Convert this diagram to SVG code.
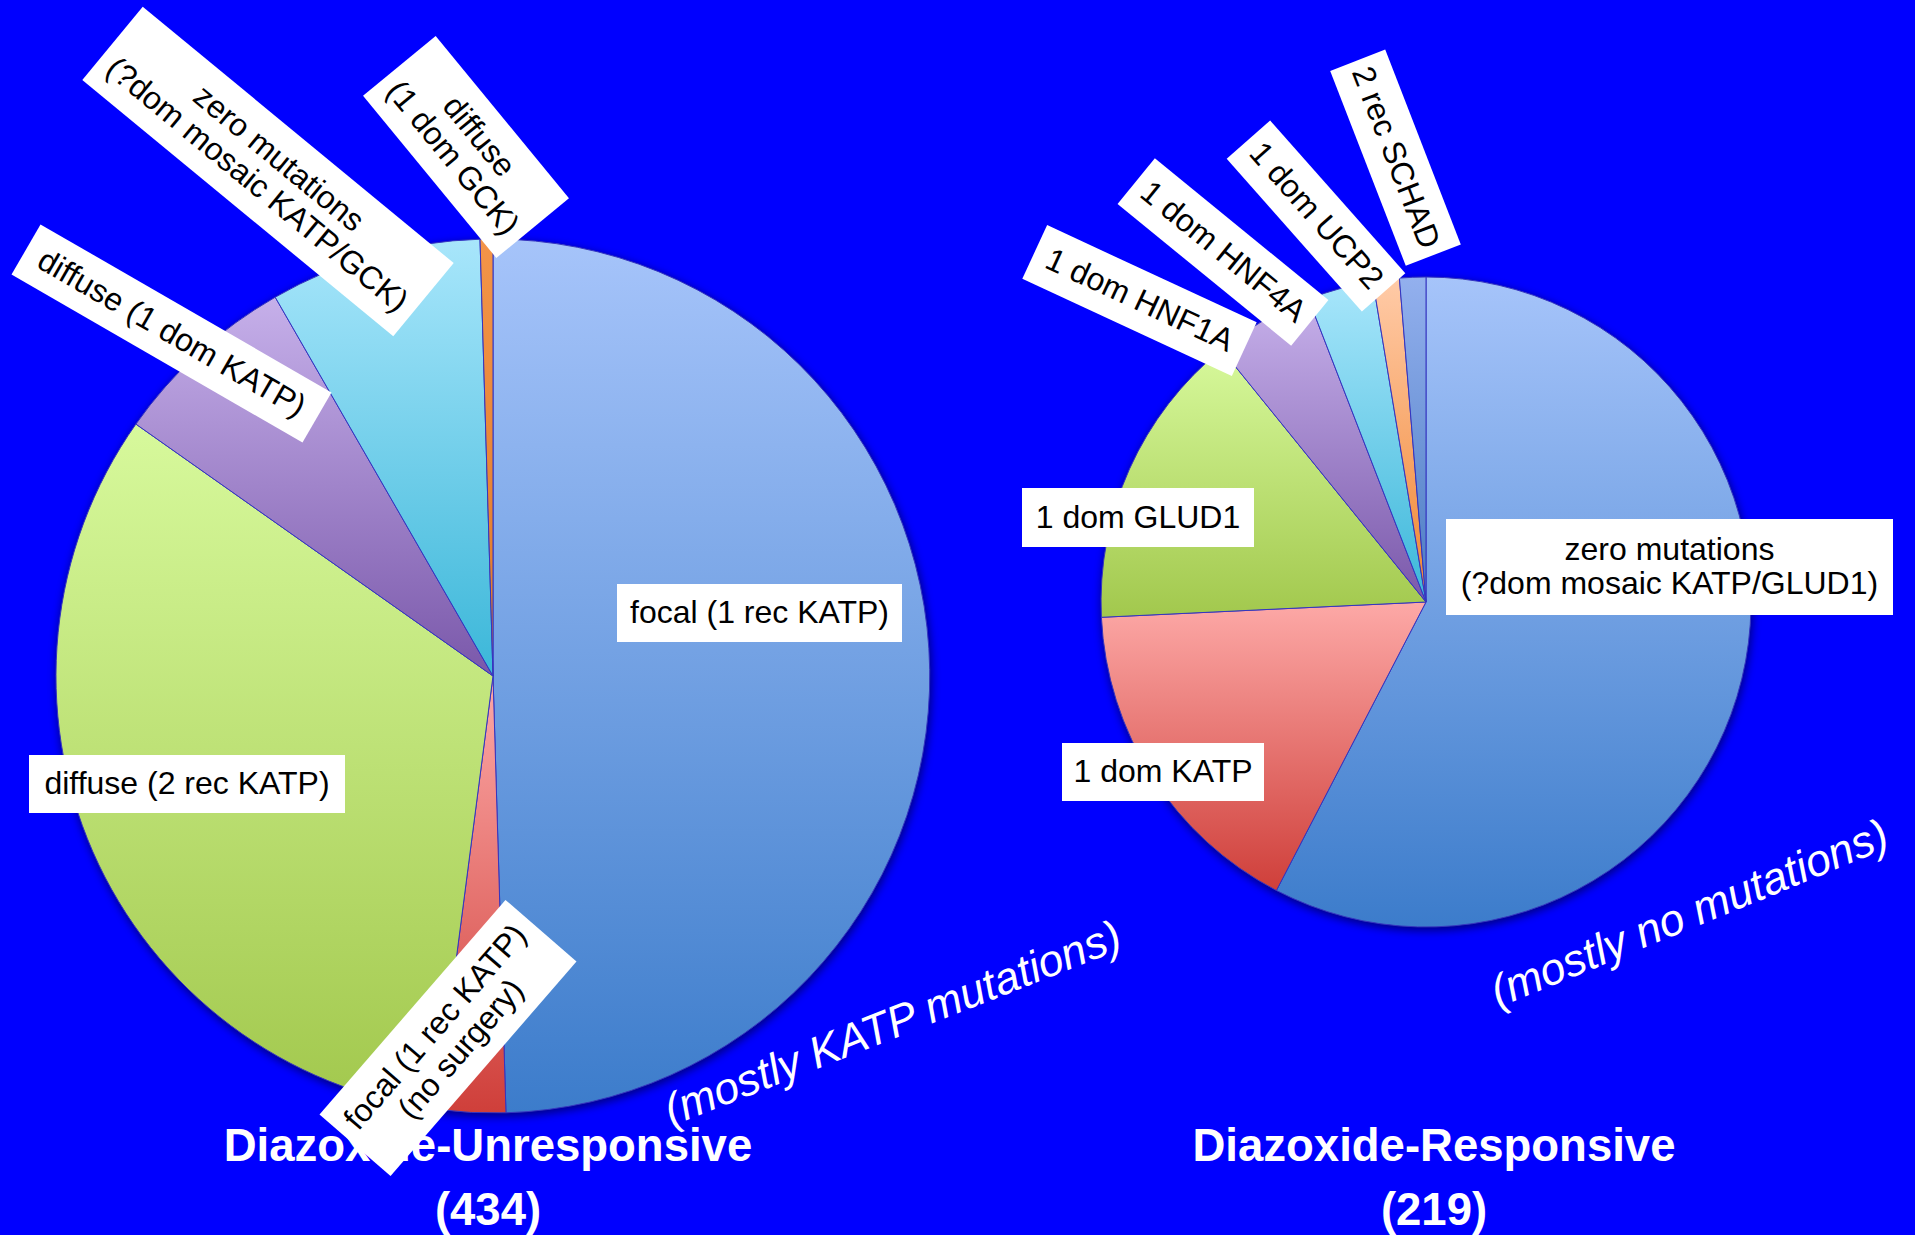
<svg xmlns="http://www.w3.org/2000/svg" width="1915" height="1235" viewBox="0 0 1915 1235">
<defs>
<style>
.slice{stroke:#3535c0;stroke-width:1;stroke-linejoin:round}
.box{fill:#ffffff}
.lbl{font-family:"Liberation Sans",Arial,sans-serif;font-size:32px;fill:#000000;text-anchor:middle}
.title{font-family:"Liberation Sans",Arial,sans-serif;font-size:45.5px;font-weight:bold;fill:#ffffff;text-anchor:middle}
.note{font-family:"Liberation Sans",Arial,sans-serif;font-size:44.5px;font-style:italic;fill:#ffffff;text-anchor:middle}
</style>
<linearGradient id="gBlue" x1="0" y1="0" x2="0" y2="1"><stop offset="0" stop-color="#A6C4FA"/><stop offset="1" stop-color="#3C7CCB"/></linearGradient>
<linearGradient id="gRed" x1="0" y1="0" x2="0" y2="1"><stop offset="0" stop-color="#FDA9A7"/><stop offset="1" stop-color="#CF3F3A"/></linearGradient>
<linearGradient id="gGreen" x1="0" y1="0" x2="0" y2="1"><stop offset="0" stop-color="#D7F99C"/><stop offset="1" stop-color="#A2C84D"/></linearGradient>
<linearGradient id="gPurple" x1="0" y1="0" x2="0" y2="1"><stop offset="0" stop-color="#C6B0EA"/><stop offset="1" stop-color="#7A58AA"/></linearGradient>
<linearGradient id="gCyan" x1="0" y1="0" x2="0" y2="1"><stop offset="0" stop-color="#A8E6FB"/><stop offset="1" stop-color="#3BB7D9"/></linearGradient>
<linearGradient id="gOrange" x1="0" y1="0" x2="0" y2="1"><stop offset="0" stop-color="#FFCBA8"/><stop offset="1" stop-color="#F08530"/></linearGradient>
<linearGradient id="gOrangeL" x1="0" y1="0" x2="0" y2="1"><stop offset="0" stop-color="#F39448"/><stop offset="1" stop-color="#E07A28"/></linearGradient>
<linearGradient id="gBlue2" x1="0" y1="0" x2="0" y2="1"><stop offset="0" stop-color="#93B0EE"/><stop offset="1" stop-color="#4B7CC2"/></linearGradient>
<filter id="shadow" x="-10%" y="-10%" width="120%" height="120%"><feGaussianBlur stdDeviation="4"/></filter>
</defs>

<rect x="0" y="0" width="1915" height="1235" fill="#0000FF"/>

<g id="pie-unresponsive">
<circle cx="494" cy="679" r="438" fill="#000060" opacity="0.75" filter="url(#shadow)"/>
<path id="u-focal" class="slice" fill="url(#gBlue)" d="M493,676 L493,239 A437,437 0 0 1 505.97,1112.8 Z"/>
<path id="u-focal-nosurgery" class="slice" fill="url(#gRed)" d="M493,676 L505.97,1112.8 A437,437 0 0 1 436.7,1109.4 Z"/>
<path id="u-diffuse-2rec" class="slice" fill="url(#gGreen)" d="M493,676 L436.7,1109.4 A437,437 0 0 1 135.9,424.1 Z"/>
<path id="u-diffuse-1dom" class="slice" fill="url(#gPurple)" d="M493,676 L135.9,424.1 A437,437 0 0 1 275.2,297.2 Z"/>
<path id="u-zero" class="slice" fill="url(#gCyan)" d="M493,676 L275.2,297.2 A437,437 0 0 1 480,239.2 Z"/>
<path id="u-gck" class="slice" fill="url(#gOrangeL)" d="M493,676 L480,239.2 A437,437 0 0 1 493,239 Z"/>
</g>

<g id="pie-responsive">
<circle cx="1427" cy="605" r="326" fill="#000060" opacity="0.75" filter="url(#shadow)"/>
<path id="r-zero" class="slice" fill="url(#gBlue)" d="M1426,602 L1426,277 A325,325 0 1 1 1276.4,890.5 Z"/>
<path id="r-katp" class="slice" fill="url(#gRed)" d="M1426,602 L1276.4,890.5 A325,325 0 0 1 1101.4,617.3 Z"/>
<path id="r-glud1" class="slice" fill="url(#gGreen)" d="M1426,602 L1101.4,617.3 A325,325 0 0 1 1221.5,349.4 Z"/>
<path id="r-hnf1a" class="slice" fill="url(#gPurple)" d="M1426,602 L1221.5,349.4 A325,325 0 0 1 1308.5,299 Z"/>
<path id="r-hnf4a" class="slice" fill="url(#gCyan)" d="M1426,602 L1308.5,299 A325,325 0 0 1 1372.9,281.4 Z"/>
<path id="r-ucp2" class="slice" fill="url(#gOrange)" d="M1426,602 L1372.9,281.4 A325,325 0 0 1 1399.4,278.1 Z"/>
<path id="r-schad" class="slice" fill="url(#gBlue2)" d="M1426,602 L1399.4,278.1 A325,325 0 0 1 1426,277 Z"/>
</g>

<g id="titles">
<g id="title-unresponsive">
<text class="title" x="488" y="1161">Diazoxide-Unresponsive</text>
<text class="title" x="488" y="1225">(434)</text>
</g>
<g id="title-responsive">
<text class="title" x="1434" y="1161">Diazoxide-Responsive</text>
<text class="title" x="1434" y="1225">(219)</text>
</g>
</g>

<g id="note-katp"><text class="note" transform="translate(898,1037) rotate(-21.5)" x="0" y="0">(mostly KATP mutations)</text></g>
<g id="note-none"><text class="note" transform="translate(1695,927) rotate(-22.3)" x="0" y="0">(mostly no mutations)</text></g>

<g id="connectors"></g>

<g id="labels">
<g id="lbl-u-focal"><rect class="box" x="617" y="584" width="285" height="58"/><text class="lbl" x="759.5" y="623">focal (1 rec KATP)</text></g>
<g id="lbl-u-diffuse-2rec"><rect class="box" x="29" y="755" width="316" height="58"/><text class="lbl" x="187" y="794">diffuse (2 rec KATP)</text></g>
<g id="lbl-u-diffuse-1dom" transform="translate(171.5,333.5) rotate(30)"><rect class="box" x="-168" y="-29" width="336" height="58"/><text class="lbl" x="0" y="10">diffuse (1 dom KATP)</text></g>
<g id="lbl-u-zero" transform="translate(268,171.5) rotate(39.5)"><rect class="box" x="-201.5" y="-47.5" width="403" height="95"/><text class="lbl" x="0" y="-6.5">zero mutations</text><text class="lbl" x="0" y="27.5">(?dom mosaic KATP/GCK)</text></g>
<g id="lbl-u-gck" transform="translate(466,147) rotate(50.6)"><rect class="box" x="-105" y="-47" width="210" height="94"/><text class="lbl" x="0" y="-6.5">diffuse</text><text class="lbl" x="0" y="27.5">(1 dom GCK)</text></g>
<g id="lbl-u-nosurgery" transform="translate(448,1038) rotate(-49.1)"><rect class="box" x="-142" y="-47" width="284" height="94"/><text class="lbl" x="0" y="-6.5">focal (1 rec KATP)</text><text class="lbl" x="0" y="27.5">(no surgery)</text></g>

<g id="lbl-r-zero"><rect class="box" x="1446" y="519" width="447" height="96"/><text class="lbl" x="1669.5" y="559.5">zero mutations</text><text class="lbl" x="1669.5" y="593.5">(?dom mosaic KATP/GLUD1)</text></g>
<g id="lbl-r-glud1"><rect class="box" x="1022" y="488" width="232" height="59"/><text class="lbl" x="1138" y="528">1 dom GLUD1</text></g>
<g id="lbl-r-katp"><rect class="box" x="1062" y="743" width="202" height="58"/><text class="lbl" x="1163" y="782">1 dom KATP</text></g>
<g id="lbl-r-hnf1a" transform="translate(1139.5,300.5) rotate(24.9)"><rect class="box" x="-115.5" y="-29.5" width="231" height="59"/><text class="lbl" x="0" y="10">1 dom HNF1A</text></g>
<g id="lbl-r-hnf4a" transform="translate(1223,252) rotate(39.2)"><rect class="box" x="-112" y="-29.5" width="224" height="59"/><text class="lbl" x="0" y="10">1 dom HNF4A</text></g>
<g id="lbl-r-ucp2" transform="translate(1316,216) rotate(48.5)"><rect class="box" x="-102" y="-29" width="204" height="58"/><text class="lbl" x="0" y="10">1 dom UCP2</text></g>
<g id="lbl-r-schad" transform="translate(1395.5,157.7) rotate(68.8)"><rect class="box" x="-104.5" y="-29.5" width="209" height="59"/><text class="lbl" x="0" y="10">2 rec SCHAD</text></g>
</g>
</svg>
